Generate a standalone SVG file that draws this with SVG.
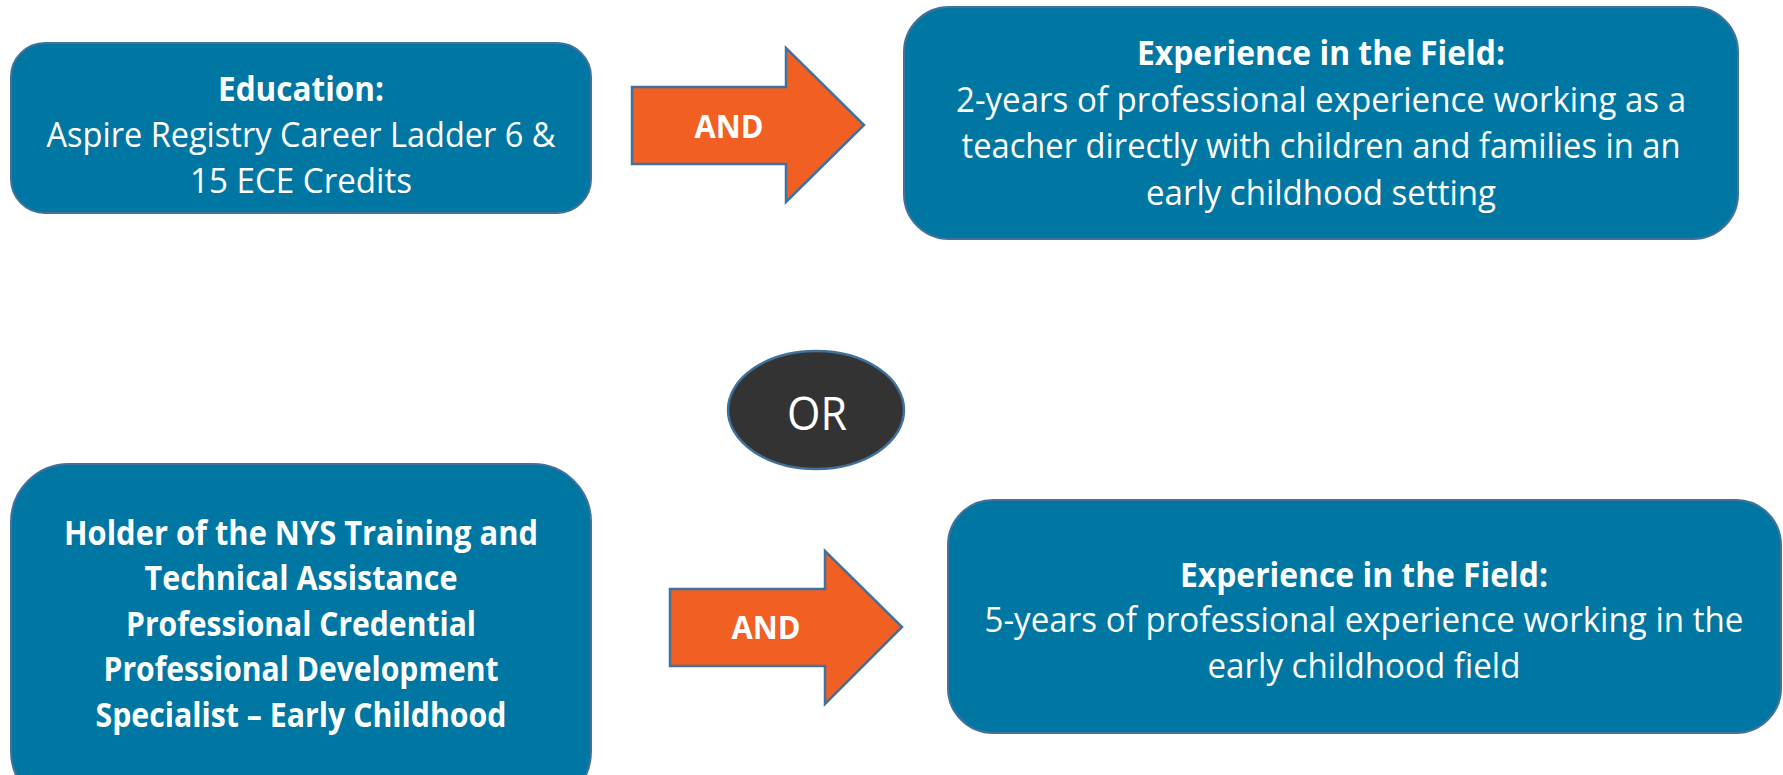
<svg xmlns="http://www.w3.org/2000/svg" width="1783" height="775" viewBox="0 0 1783 775">
  <style>
    .box { fill: #0077A3; stroke: #41719C; stroke-width: 2; }
    .arrow { fill: #F15F22; stroke: #41719C; stroke-width: 2.5; stroke-linejoin: miter; }
    .or { fill: #333333; stroke: #41719C; stroke-width: 2.5; }
    text { font-family: "Open Sans", "Noto Sans", "Liberation Sans", sans-serif; fill: #FFFFFF; text-anchor: middle; }
    .t { font-size: 34px; }
    .b { font-size: 34px; font-weight: bold; }
    .and { font-size: 32px; font-weight: bold; }
    .ortxt { font-size: 46px; }
  </style>
  <rect width="1783" height="775" fill="#FFFFFF"/>

  <g id="connectors">
    <g id="arrow-and-1">
      <polygon class="arrow" points="632,87 786,87 786,48 864,125 786,202 786,164 632,164"/>
      <text class="and" x="729" y="138" textLength="69" lengthAdjust="spacingAndGlyphs">AND</text>
    </g>
    <g id="arrow-and-2">
      <polygon class="arrow" points="670,589 825,589 825,551 902,627 825,704 825,666 670,666"/>
      <text class="and" x="766" y="639" textLength="69" lengthAdjust="spacingAndGlyphs">AND</text>
    </g>
  </g>

  <g id="education">
    <rect class="box" x="11" y="43" width="580" height="170" rx="34" ry="34"/>
    <text class="b" x="301" y="101" textLength="166" lengthAdjust="spacingAndGlyphs">Education:</text>
    <text class="t" x="301" y="147" textLength="509" lengthAdjust="spacingAndGlyphs">Aspire Registry Career Ladder 6 &amp;</text>
    <text class="t" x="301" y="193" textLength="222" lengthAdjust="spacingAndGlyphs">15 ECE Credits</text>
  </g>

  <g id="experience-2yr">
    <rect class="box" x="904" y="7" width="834" height="232" rx="45" ry="45"/>
    <text class="b" x="1321" y="65" textLength="368" lengthAdjust="spacingAndGlyphs">Experience in the Field:</text>
    <text class="t" x="1321" y="112" textLength="730" lengthAdjust="spacingAndGlyphs">2-years of professional experience working as a</text>
    <text class="t" x="1321" y="158" textLength="719" lengthAdjust="spacingAndGlyphs">teacher directly with children and families in an</text>
    <text class="t" x="1321" y="205" textLength="350" lengthAdjust="spacingAndGlyphs">early childhood setting</text>
  </g>

  <g id="or">
    <ellipse class="or" cx="816" cy="410" rx="88" ry="59"/>
    <text class="ortxt" x="817" y="430" textLength="60" lengthAdjust="spacingAndGlyphs">OR</text>
  </g>

  <g id="credential">
    <rect class="box" x="11" y="464" width="580" height="345" rx="58" ry="58"/>
    <text class="b" x="301" y="545" textLength="474" lengthAdjust="spacingAndGlyphs">Holder of the NYS Training and</text>
    <text class="b" x="301" y="590" textLength="313" lengthAdjust="spacingAndGlyphs">Technical Assistance</text>
    <text class="b" x="301" y="636" textLength="350" lengthAdjust="spacingAndGlyphs">Professional Credential</text>
    <text class="b" x="301" y="681" textLength="395" lengthAdjust="spacingAndGlyphs">Professional Development</text>
    <text class="b" x="301" y="727" textLength="411" lengthAdjust="spacingAndGlyphs">Specialist – Early Childhood</text>
  </g>

  <g id="experience-5yr">
    <rect class="box" x="948" y="500" width="833" height="233" rx="45" ry="45"/>
    <text class="b" x="1364" y="587" textLength="368" lengthAdjust="spacingAndGlyphs">Experience in the Field:</text>
    <text class="t" x="1364" y="632" textLength="759" lengthAdjust="spacingAndGlyphs">5-years of professional experience working in the</text>
    <text class="t" x="1364" y="678" textLength="313" lengthAdjust="spacingAndGlyphs">early childhood field</text>
  </g>
</svg>
